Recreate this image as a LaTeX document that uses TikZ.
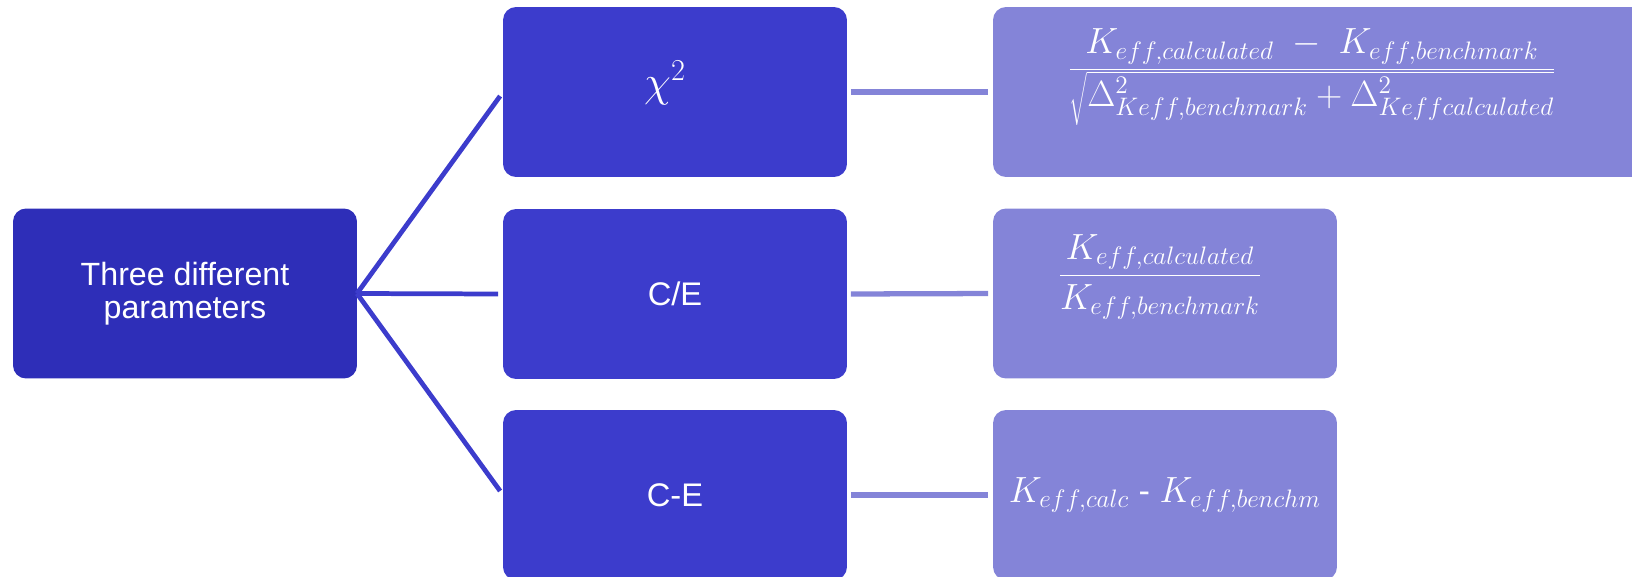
\documentclass[tikz,border=0pt]{standalone}
\usepackage[no-math]{fontspec}
\setmainfont{Liberation Sans}
\definecolor{rootblue}{RGB}{46,46,184}
\definecolor{midblue}{RGB}{60,60,204}
\definecolor{paleblue}{RGB}{132,132,216}
\begin{document}
\begin{tikzpicture}[x=0.02cm,y=-0.02cm,
  every node/.style={inner sep=0pt, outer sep=0pt, text=white, align=center},
  box/.style={rounded corners=0.26cm, minimum width=6.88cm, minimum height=3.4cm},
  rootbox/.style={box, fill=rootblue, font=\fontsize{18.3}{18.6}\selectfont},
  midbox/.style={box, fill=midblue, font=\fontsize{18.6}{18.6}\selectfont},
  formbox/.style={box, fill=paleblue, font=\fontsize{19.5}{22}\selectfont},
  formtext/.style={font=\fontsize{19.5}{22}\selectfont},
  rootline/.style={draw=midblue, line width=2.7pt, shorten >=0.1cm},
  formline/.style={draw=paleblue, line width=3pt, shorten <=0.08cm, shorten >=0.1cm}]

\useasboundingbox (0,0) rectangle (1632,576);
\clip (0,0) rectangle (1632,576);

\node[rootbox] (root) at (185,293.5) {Three different\\parameters};

\node[midbox] (chi) at (675,92) {};
\node[midbox] (ratio) at (675,294) {C/E};
\node[midbox] (diff) at (675,495) {C-E};
\node[font=\fontsize{27}{30}\selectfont] (chitext) at (665,83) {$\chi^2$};

\node[formbox, minimum width=14cm, anchor=west] (chiform) at (993,92) {};
\node[formbox] (ratioform) at (1165,293.5) {};
\node[formbox] (diffform) at (1165,495) {$K_{eff,calc}$ - $K_{eff,benchm}$};

\node[formtext] (chieq) at (1312,77)
  {$\displaystyle\frac{K_{eff,calculated}\;-\;K_{eff,benchmark}}{\sqrt{\Delta^{2}_{\mathstrut Keff,benchmark}+\Delta^{2}_{\mathstrut Keffcalculated}}}$};
\node[formtext] (ratioeq) at (1160,277)
  {$\displaystyle\frac{K_{eff,calculated}}{K_{eff,benchmark}}$};

\draw[rootline] (root.east) -- (chi.west);
\draw[rootline] (root.east) -- (ratio.west);
\draw[rootline] (root.east) -- (diff.west);

\draw[formline] (chi.east) -- (chiform.west);
\draw[formline] (ratio.east) -- (ratioform.west);
\draw[formline] (diff.east) -- (diffform.west);
\end{tikzpicture}
\end{document}
